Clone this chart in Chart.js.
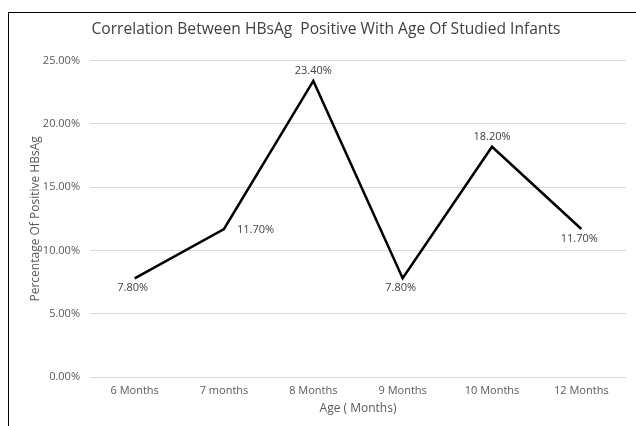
<!DOCTYPE html>
<html>
<head>
<meta charset="utf-8">
<script src="https://cdn.jsdelivr.net/npm/chart.js@4/dist/chart.umd.min.js"></script>
<style>
  html, body { margin: 0; padding: 0; background: #fff; overflow: hidden; }
  #wrap { position: relative; width: 636px; height: 426px; }
  #frame {
    position: absolute; left: 8px; top: 12px; width: 700px; height: 500px;
    border-left: 1.5px solid #000; border-top: 1.5px solid #000; pointer-events: none;
  }
</style>
</head>
<body>
<div id="wrap">
  <canvas id="chart" width="636" height="426"></canvas>
  <div id="frame"></div>
</div>
<script>
const categories = ["6 Months", "7 months", "8 Months", "9 Months", "10 Months", "12 Months"]
const positiveRate = [7.8, 11.7, 23.4, 7.8, 18.2, 11.7]
const labelSide = ["below", "right", "above", "below", "above", "below"]

const fontFamily = "'Open Sans', 'Noto Sans', sans-serif"
const textColor  = "#595959"
const gridColor  = "#d9d9d9"

// value labels next to each point, Excel style
const pointLabels = {
  id: "pointLabels",
  afterDatasetsDraw(chart) {
    const ctx  = chart.ctx
    const meta = chart.getDatasetMeta(0)
    ctx.save()
    ctx.font = `11px ${fontFamily}`
    ctx.fillStyle = "#404040"
    ctx.textBaseline = "middle"
    meta.data.forEach((pt, i) => {
      const txt  = positiveRate[i].toFixed(2) + "%"
      const side = labelSide[i]
      if (side === "right") {
        ctx.textAlign = "left"
        ctx.fillText(txt, pt.x + 13, pt.y + 1)
      } else if (side === "above") {
        ctx.textAlign = "center"
        ctx.fillText(txt, pt.x, pt.y - 10)
      } else {
        ctx.textAlign = "center"
        ctx.fillText(txt, pt.x - 2, pt.y + 10)
      }
    })
    ctx.restore()
  }
}

new Chart(document.getElementById("chart"), {
  type: "line",
  data: {
    labels: categories,
    datasets: [{
      label: "Percentage Of Positive HBsAg",
      data: positiveRate,
      borderColor: "#000",
      borderWidth: 2.5,
      pointRadius: 0,
      tension: 0,
      fill: false
    }]
  },
  options: {
    responsive: false,
    animation: false,
    layout: { padding: { left: 26, right: 10, top: 0, bottom: 0 } },
    plugins: {
      legend:  { display: false },
      tooltip: { enabled: false },
      title: {
        display: true,
        text: "Correlation Between HBsAg  Positive With Age Of Studied Infants",
        color: "#404040",
        font: { family: fontFamily, size: 15.6, weight: "normal" },
        padding: { top: 20, bottom: 22 }
      }
    },
    scales: {
      x: {
        offset: true,
        grid:   { display: false, drawTicks: false },
        border: { display: false },
        ticks:  { color: textColor, font: { family: fontFamily, size: 11 }, padding: 7, maxRotation: 0 },
        title:  {
          display: true, text: "Age ( Months)", color: textColor,
          font: { family: fontFamily, size: 12 }, padding: { top: 3, bottom: 10 }
        },
        afterFit: scale => { scale.height = 49 }
      },
      y: {
        min: 0,
        max: 25,
        grid:   { color: gridColor, drawTicks: false },
        border: { display: false },
        ticks:  {
          stepSize: 5,
          color: textColor,
          font: { family: fontFamily, size: 11 },
          padding: 10,
          callback: v => v.toFixed(2) + "%"
        },
        title: {
          display: true, text: "Percentage Of Positive HBsAg", color: textColor,
          font: { family: fontFamily, size: 12 }, padding: { top: 2, bottom: 0 }
        },
        afterFit: scale => { scale.width = 64 }
      }
    }
  },
  plugins: [pointLabels]
})
</script>
</body>
</html>
